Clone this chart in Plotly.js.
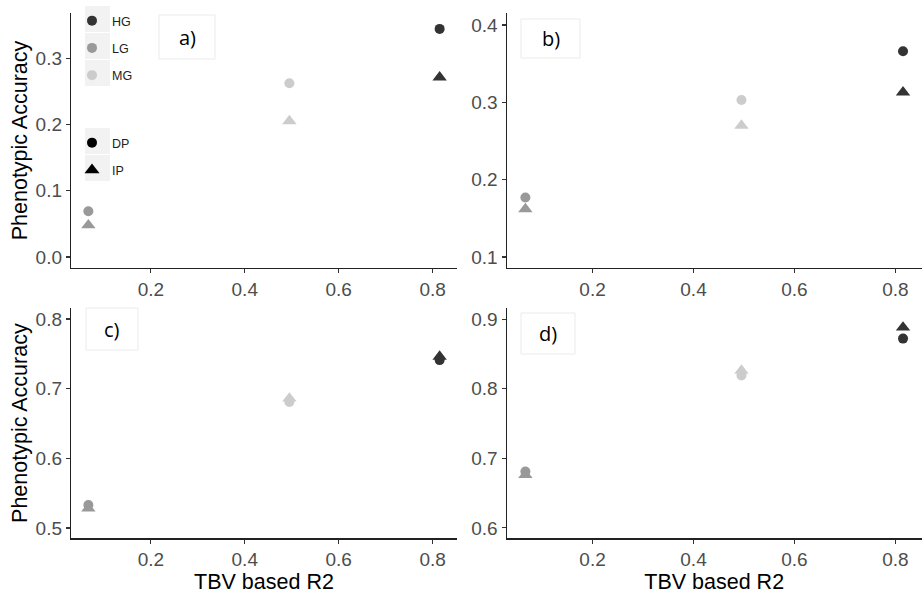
<!DOCTYPE html>
<html>
<head>
<meta charset="utf-8">
<script src="https://cdn.plot.ly/plotly-3.0.1.min.js"></script>
<style>html,body{margin:0;padding:0;background:#fff}#chart{width:924px;height:596px}</style>
</head>
<body>
<div id="chart"></div>
<script>
// ---- data ----
const groups = ['LG', 'MG', 'HG'];
const tbvR2 = [0.067, 0.495, 0.815];
const panelLabels = ['a)', 'b)', 'c)', 'd)'];
const a_DP = [0.069, 0.262, 0.344];
const a_IP = [0.048, 0.205, 0.271];
const b_DP = [0.177, 0.303, 0.366];
const b_IP = [0.162, 0.270, 0.313];
const c_DP = [0.533, 0.681, 0.741];
const c_IP = [0.528, 0.686, 0.746];
const d_DP = [0.681, 0.819, 0.872];
const d_IP = [0.676, 0.826, 0.888];
const xTicks = [0.2, 0.4, 0.6, 0.8];
const legendGroups = ['HG', 'LG', 'MG'];
const legendShapes = ['DP', 'IP'];

// ---- styles ----
const groupColor = {HG: '#333333', LG: '#999999', MG: '#cccccc'};
const shapeSymbol = {DP: 'circle', IP: 'triangle-up'};
const shapeSize = {DP: 10, IP: 12.5};

const W = 924, H = 596;
const px = v => v / W, py = v => 1 - v / H;

const panels = [
  {dp: a_DP, ip: a_IP, xa: 'x', ya: 'y'},
  {dp: b_DP, ip: b_IP, xa: 'x2', ya: 'y2'},
  {dp: c_DP, ip: c_IP, xa: 'x3', ya: 'y3'},
  {dp: d_DP, ip: d_IP, xa: 'x4', ya: 'y4'}
];

const traces = [];
panels.forEach(p => {
  [['DP', p.dp], ['IP', p.ip]].forEach(([s, vals]) => {
    traces.push({
      type: 'scatter', mode: 'markers', x: tbvR2, y: vals,
      xaxis: p.xa, yaxis: p.ya, showlegend: false, hoverinfo: 'x+y',
      marker: {symbol: shapeSymbol[s], size: shapeSize[s],
               color: groups.map(g => groupColor[g]), line: {width: 0}}
    });
  });
});
legendGroups.forEach(g => traces.push({
  type: 'scatter', mode: 'markers', x: [null], y: [null], name: g,
  legend: 'legend', legendgroup: 'c' + g, showlegend: true,
  marker: {symbol: 'circle', size: 10, color: groupColor[g]}
}));
legendShapes.forEach(s => traces.push({
  type: 'scatter', mode: 'markers', x: [null], y: [null], name: s,
  legend: 'legend2', legendgroup: 's' + s, showlegend: true,
  marker: {symbol: shapeSymbol[s], size: s === 'DP' ? 10 : 13, color: '#000000'}
}));

const tickFont = {family: 'Liberation Sans, Arial, sans-serif', size: 19, color: '#4d4d4d'};
const titleFont = {family: 'Liberation Sans, Arial, sans-serif', size: 21.5, color: '#000000'};
function xax(domain, anchor, title) {
  const o = {domain: domain, anchor: anchor, range: [0.030, 0.852], tickvals: xTicks,
    tickformat: '.1f', ticks: 'outside', ticklen: 4, tickwidth: 1.1, tickcolor: '#333',
    showline: true, linecolor: '#222', linewidth: 1.2, showgrid: false, zeroline: false,
    tickfont: tickFont, automargin: false, fixedrange: true};
  if (title) o.title = {text: title, font: titleFont, standoff: 4};
  return o;
}
function yax(domain, anchor, range, title) {
  const o = {domain: domain, anchor: anchor, range: range, dtick: 0.1, tick0: 0,
    tickformat: '.1f', ticks: 'outside', ticklen: 4, tickwidth: 1.1, tickcolor: '#333',
    showline: true, linecolor: '#222', linewidth: 1.2, showgrid: false, zeroline: false,
    tickfont: tickFont, automargin: false, fixedrange: true};
  if (title) o.title = {text: title, font: titleFont, standoff: 2};
  return o;
}
const xLeft = [px(71), px(457)], xRight = [px(506.7), px(921.7)];
const yTop = [py(268), py(13)], yBot = [py(538.3), py(308)];

const shapes = [];
const annotations = [];
// legend key backgrounds
[[85, 6], [85, 33], [85, 60], [85, 128], [85, 155]].forEach(([x, y]) => shapes.push({
  type: 'rect', xref: 'paper', yref: 'paper', x0: px(x), x1: px(x + 25), y0: py(y + 26), y1: py(y),
  fillcolor: '#f2f2f2', line: {width: 0}, layer: 'above'
}));
// panel label boxes
const boxes = [[159, 15, 215, 59], [521, 19, 580, 58], [86, 308, 138, 350], [521, 313, 575, 354]];
boxes.forEach((b, i) => {
  shapes.push({type: 'rect', xref: 'paper', yref: 'paper', x0: px(b[0]), x1: px(b[2]),
    y0: py(b[3]), y1: py(b[1]), fillcolor: '#ffffff', line: {color: '#ebebeb', width: 1}, layer: 'above'});
  annotations.push({xref: 'paper', yref: 'paper', x: px((b[0] + b[2]) / 2), y: py((b[1] + b[3]) / 2),
    text: panelLabels[i], showarrow: false, xanchor: 'center', yanchor: 'middle',
    font: {family: 'Open Sans, sans-serif', size: 20, color: '#000'}});
});

const legendFont = {family: 'Liberation Sans, Arial, sans-serif', size: 12.5, color: '#222'};
const layout = {
  width: W, height: H, margin: {l: 0, r: 0, t: 0, b: 0},
  paper_bgcolor: '#ffffff', plot_bgcolor: 'rgba(0,0,0,0)',
  xaxis: xax(xLeft, 'y'), yaxis: yax(yTop, 'x', [-0.0166, 0.368], 'Phenotypic Accuracy'),
  xaxis2: xax(xRight, 'y2'), yaxis2: yax(yTop, 'x2', [0.0858, 0.4155]),
  xaxis3: xax(xLeft, 'y3', 'TBV based R2'), yaxis3: yax(yBot, 'x3', [0.4852, 0.8158], 'Phenotypic Accuracy'),
  xaxis4: xax(xRight, 'y4', 'TBV based R2'), yaxis4: yax(yBot, 'x4', [0.585, 0.916]),
  legend: {x: px(72), y: py(6), xanchor: 'left', yanchor: 'top', bgcolor: 'rgba(0,0,0,0)',
    font: legendFont, traceorder: 'grouped', tracegroupgap: 8, itemsizing: 'trace', borderwidth: 0},
  legend2: {x: px(72), y: py(128), xanchor: 'left', yanchor: 'top', bgcolor: 'rgba(0,0,0,0)',
    font: legendFont, traceorder: 'grouped', tracegroupgap: 8, itemsizing: 'trace', borderwidth: 0},
  shapes: shapes, annotations: annotations, showlegend: true
};
Plotly.newPlot('chart', traces, layout, {displayModeBar: false, staticPlot: true});
</script>
</body>
</html>
